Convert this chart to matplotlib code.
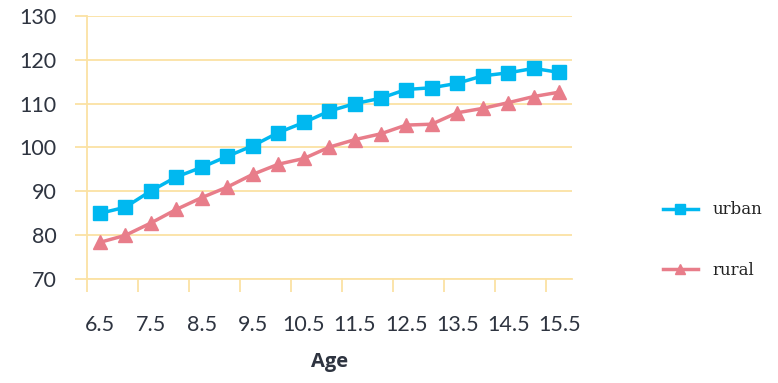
import matplotlib
matplotlib.use("Agg")
import matplotlib.pyplot as plt
import numpy as np

ages = ["6.5", "7", "7.5", "8", "8.5", "9", "9.5", "10", "10.5", "11",
        "11.5", "12", "12.5", "13", "13.5", "14", "14.5", "15", "15.5"]
urban = [85.0, 86.4, 90.1, 93.3, 95.5, 98.0, 100.4, 103.4, 105.7, 108.3,
         110.0, 111.2, 113.2, 113.6, 114.6, 116.3, 117.0, 118.0, 117.1]
rural = [78.4, 80.0, 82.8, 85.9, 88.6, 91.0, 93.9, 96.2, 97.5, 100.1,
         101.8, 103.1, 105.1, 105.3, 107.9, 108.9, 110.2, 111.6, 112.6]

grid_col = "#FBE2A4"
text_col = "#2E3440"

fig = plt.figure(figsize=(7.78, 3.83), dpi=100)
ax = fig.add_axes([0.1118, 0.2708, 0.6234, 0.6882])

x = np.arange(len(ages))
ax.plot(x, urban, color="#00B8F0", lw=2.5, marker="s", ms=10, label="urban")
ax.plot(x, rural, color="#E87D8A", lw=2.5, marker="^", ms=10, label="rural")

ax.set_xlim(-0.5, len(ages) - 0.5)
ax.set_ylim(70, 130)
ax.set_yticks(np.arange(70, 131, 10))
ax.yaxis.grid(True, color=grid_col, lw=1.3)
ax.set_axisbelow(True)

# category axis: labels every other point, ticks between categories
ax.set_xticks(x[::2])
ax.set_xticklabels(ages[::2])
ax.set_xticks(np.arange(-0.5, len(ages), 2), minor=True)
ax.tick_params(axis="x", which="major", length=0, pad=26)
ax.tick_params(axis="x", which="minor", length=9, width=1.3, color=grid_col)
ax.tick_params(axis="y", length=9, width=1.3, color=grid_col, pad=13)

for lab in ax.get_xticklabels() + ax.get_yticklabels():
    lab.set_fontfamily("Lato")
    lab.set_fontsize(15.5)
    lab.set_color(text_col)

for s in ["top", "right"]:
    ax.spines[s].set_visible(False)
ax.spines["left"].set_color(grid_col)
ax.spines["bottom"].set_color(grid_col)
ax.spines["left"].set_linewidth(1.3)
ax.spines["bottom"].set_linewidth(1.3)

ax.set_xlabel("Age", fontfamily="Open Sans", fontweight="bold", fontsize=14.5,
              color=text_col, labelpad=12)

leg = fig.legend(loc="center left", bbox_to_anchor=(0.852, 0.373), frameon=False,
                 prop={"family": "DejaVu Serif", "size": 12}, markerscale=0.75,
                 handlelength=2.1, handletextpad=0.9, labelspacing=2.6,
                 borderpad=0, borderaxespad=0)
for t in leg.get_texts():
    t.set_color("#222222")

fig.savefig("out.png", dpi=100)
